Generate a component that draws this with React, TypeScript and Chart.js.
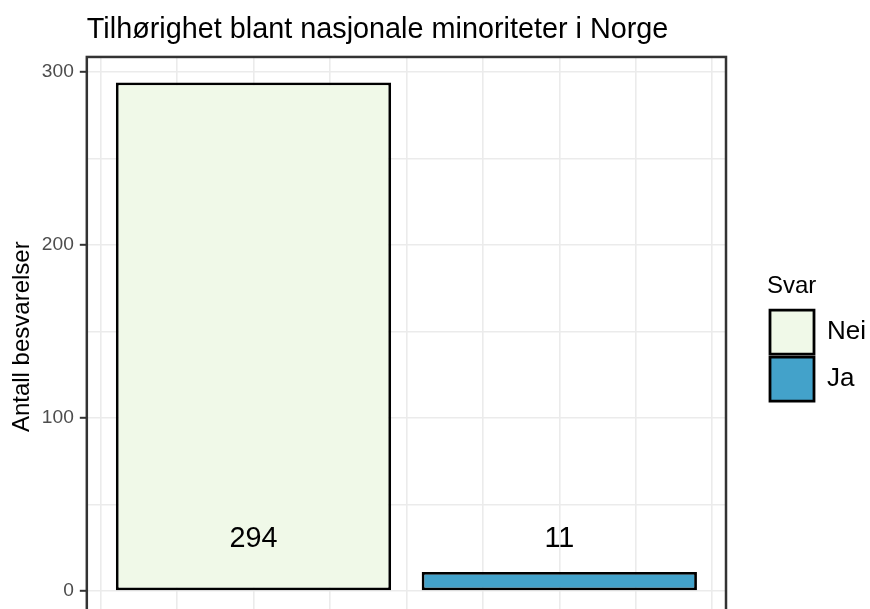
import React, { useEffect, useRef } from 'react';
import { Chart, registerables } from 'chart.js';

Chart.register(...registerables);

const TITLE = 'Tilhørighet blant nasjonale minoriteter i Norge';
const Y_TITLE = 'Antall besvarelser';
const LEGEND_TITLE = 'Svar';

const categories = ['Nei', 'Ja'];
const counts = [294, 11];
const xPositions = [1, 2];
const fills = ['#F0F9E8', '#43A2CA'];

const yMajorTicks = [0, 100, 200, 300];
const yMinorTicks = [50, 150, 250];
const xMajorBreaks = [0.5, 1, 1.5, 2, 2.5];
const xMinorBreaks = [0.75, 1.25, 1.75, 2.25];
const labelY = 30;

const FONT = "'Liberation Sans', Arial, Helvetica, sans-serif";
const BAR_WIDTH = 0.9;

const xLo = Math.min(...xPositions) - BAR_WIDTH / 2;
const xHi = Math.max(...xPositions) + BAR_WIDTH / 2;
const xMin = xLo - (xHi - xLo) * 0.05;
const xMax = xHi + (xHi - xLo) * 0.05;
const yTop = Math.max(...counts);
const yMin = -yTop * 0.05;
const yMax = yTop * 1.05;

const panelPlugin = {
  id: 'panelDecor',
  afterDatasetsDraw(chart: any) {
    const { ctx, chartArea: a, scales } = chart;
    ctx.save();
    ctx.font = `28.8px ${FONT}`;
    ctx.fillStyle = '#000000';
    ctx.textAlign = 'center';
    ctx.textBaseline = 'middle';
    counts.forEach((c, i) => {
      ctx.fillText(
        String(c),
        scales.x.getPixelForValue(xPositions[i]),
        scales.y.getPixelForValue(labelY)
      );
    });
    ctx.strokeStyle = '#333333';
    ctx.lineWidth = 2.5;
    ctx.strokeRect(a.left, a.top, a.right - a.left, a.bottom - a.top);
    ctx.restore();
  },
};

export default function App() {
  const ref = useRef<HTMLCanvasElement | null>(null);

  useEffect(() => {
    if (!ref.current) return;
    const chart = new Chart(ref.current, {
      type: 'bar',
      data: {
        datasets: categories.map((c, i) => ({
          label: c,
          data: [{ x: xPositions[i], y: counts[i] }],
          backgroundColor: fills[i],
          borderColor: '#000000',
          borderWidth: 2.8,
          borderSkipped: false,
          grouped: false,
          barPercentage: BAR_WIDTH,
          categoryPercentage: 1,
        })),
      },
      options: {
        responsive: false,
        animation: false,
        layout: { padding: { left: 0, right: 0, top: 0, bottom: 23.5 } },
        plugins: {
          title: {
            display: true,
            text: TITLE,
            align: 'start',
            fullSize: false,
            color: '#000000',
            font: { family: FONT, size: 28.8, weight: 'normal' },
            padding: { top: 13, bottom: 9.4 },
          },
          legend: {
            display: true,
            position: 'right',
            align: 'center',
            maxWidth: 103,
            title: {
              display: true,
              text: LEGEND_TITLE,
              position: 'start',
              color: '#000000',
              font: { family: FONT, size: 24 },
              padding: { top: 62, bottom: 4 },
            },
            labels: {
              boxWidth: 44,
              boxHeight: 44,
              padding: 3,
              color: '#000000',
              font: { family: FONT, size: 26 },
            },
          },
          tooltip: { enabled: false },
        },
        scales: {
          x: {
            type: 'linear',
            min: xMin,
            max: xMax,
            offset: false,
            grid: { display: false, drawTicks: false, offset: false },
            ticks: { display: false },
            border: { display: false },
            afterBuildTicks: (s: any) => {
              s.ticks = xPositions.map((v) => ({ value: v }));
            },
          },
          xg: {
            type: 'linear',
            axis: 'x',
            position: 'bottom',
            min: xMin,
            max: xMax,
            offset: false,
            grid: { color: '#EBEBEB', lineWidth: 1.6, drawTicks: false, offset: false },
            ticks: { display: false },
            border: { display: false },
            afterBuildTicks: (s: any) => {
              s.ticks = [...xMajorBreaks, ...xMinorBreaks]
                .sort((a, b) => a - b)
                .map((v) => ({ value: v }));
            },
          },
          y: {
            type: 'linear',
            position: 'left',
            min: yMin,
            max: yMax,
            grid: {
              color: '#EBEBEB',
              lineWidth: 1.6,
              drawTicks: true,
              tickLength: 7,
              tickWidth: 2,
              tickColor: (ctx: any) =>
                ctx.tick && yMajorTicks.includes(ctx.tick.value) ? '#333333' : 'rgba(0,0,0,0)',
            },
            border: { display: false },
            afterBuildTicks: (s: any) => {
              s.ticks = [...yMajorTicks, ...yMinorTicks]
                .sort((a, b) => a - b)
                .map((v) => ({ value: v }));
            },
            ticks: {
              color: '#4D4D4D',
              font: { family: FONT, size: 19.2 },
              padding: 6,
              autoSkip: false,
              callback: (v: any) => (yMajorTicks.includes(Number(v)) ? String(v) : ''),
            },
            title: {
              display: true,
              text: Y_TITLE,
              color: '#000000',
              font: { family: FONT, size: 24 },
              padding: { top: 8, bottom: -1 },
            },
          },
          yr: {
            type: 'linear',
            axis: 'y',
            position: 'right',
            display: true,
            grid: { display: false, drawTicks: false },
            ticks: { display: false },
            border: { display: false },
            afterFit: (s: any) => {
              s.width = 41;
            },
          },
        },
      },
      plugins: [panelPlugin],
    } as any);
    return () => chart.destroy();
  }, []);

  return (
    <div
      style={{
        position: 'absolute',
        left: 0,
        top: 0,
        width: 870,
        height: 609,
        overflow: 'hidden',
        background: '#ffffff',
      }}
    >
      <canvas ref={ref} width={870} height={640} style={{ display: 'block' }} />
    </div>
  );
}
